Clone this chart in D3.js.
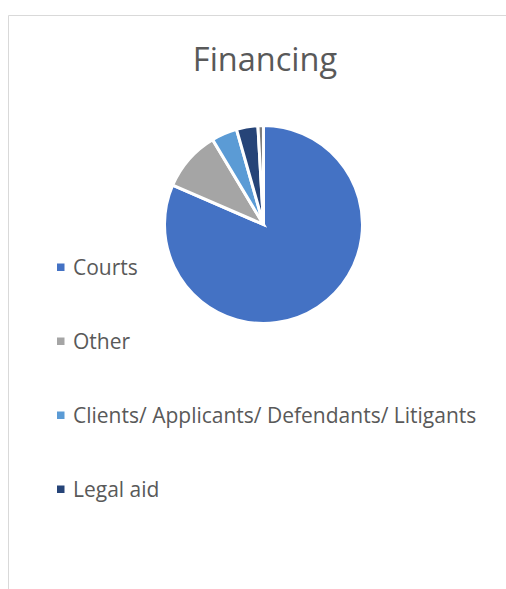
<!DOCTYPE html>
<html>
<head>
<meta charset="utf-8">
<script src="https://cdn.jsdelivr.net/npm/d3@7"></script>
<style>
  body { margin: 0; background: #fff; }
  text { font-family: 'Open Sans', 'Noto Sans', sans-serif; fill: #595959; }
</style>
</head>
<body>
<div id="chart"></div>
<script>
const categories = ['Courts', 'Other', 'Clients/ Applicants/ Defendants/ Litigants', 'Legal aid', 'Unspecified'];
const shares = [81.5, 9.9, 4.2, 3.5, 0.9];
const colors = ['#4472C4', '#A5A5A5', '#5B9BD5', '#264478', '#7F7F7F'];
const legendShown = 4; // the legend box only has room for the first four entries

const width = 506;
const height = 589;

const svg = d3.select('#chart')
    .append('svg')
    .attr('width', width)
    .attr('height', height);

// chart area frame (right and bottom edges are outside the crop)
svg.append('path')
    .attr('d', `M8.5,${height} V15.5 H${width}`)
    .attr('fill', 'none')
    .attr('stroke', '#d9d9d9')
    .attr('stroke-width', 1);

svg.append('text')
    .attr('x', 265)
    .attr('y', 71)
    .attr('text-anchor', 'middle')
    .style('font-size', '32.5px')
    .text('Financing');

const data = categories.map((c, i) => ({ name: c, value: shares[i], color: colors[i] }));

const pie = d3.pie()
    .sort(null)
    .value(d => d.value);

const arc = d3.arc()
    .innerRadius(0)
    .outerRadius(99);

const groupPie = svg.append('g')
    .attr('transform', `translate(${263.5}, ${224.5})`);

groupPie.selectAll('path')
    .data(pie(data))
    .enter()
    .append('path')
    .attr('d', arc)
    .attr('fill', d => d.data.color)
    .attr('stroke', '#fff')
    .attr('stroke-width', 3)
    .attr('stroke-linejoin', 'miter');

const legendY = d3.scalePoint()
    .domain(categories.slice(0, legendShown))
    .range([267, 489]);

const legend = svg.append('g').attr('class', 'legend');

const items = legend.selectAll('g')
    .data(data.slice(0, legendShown))
    .enter()
    .append('g')
    .attr('transform', d => `translate(0, ${legendY(d.name)})`);

items.append('rect')
    .attr('x', 57)
    .attr('y', -3.5)
    .attr('width', 7.5)
    .attr('height', 7.5)
    .attr('fill', d => d.color);

items.append('text')
    .attr('x', 73)
    .attr('y', 0)
    .attr('dy', '0.36em')
    .style('font-size', '21px')
    .text(d => d.name);
</script>
</body>
</html>
